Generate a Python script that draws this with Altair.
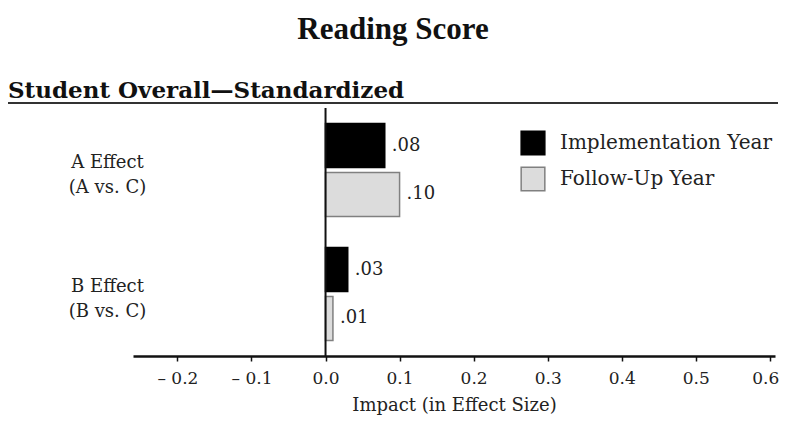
import altair as alt
import pandas as pd

categories = ["A Effect", "B Effect"]
comparisons = ["(A vs. C)", "(B vs. C)"]
series = ["Implementation Year", "Follow-Up Year"]
implementation = [0.08, 0.03]
follow_up = [0.10, 0.01]
x_ticks = [-0.2, -0.1, 0.0, 0.1, 0.2, 0.3, 0.4, 0.5, 0.6]

rows = []
for i, c in enumerate(categories):
    key = c + "|" + comparisons[i]
    rows.append({"cat": key, "series": series[0], "value": implementation[i]})
    rows.append({"cat": key, "series": series[1], "value": follow_up[i]})
df = pd.DataFrame(rows)
cat_order = [c + "|" + comparisons[i] for i, c in enumerate(categories)]

BODY = "DejaVu Serif"

x_enc = alt.X(
    "value:Q",
    scale=alt.Scale(domain=[-0.26, 0.607], nice=False, zero=False),
    axis=alt.Axis(
        values=x_ticks,
        labelExpr="datum.value < 0 ? '\u2013 ' + format(abs(datum.value), '.1f') : format(datum.value, '.1f')",
        title="Impact (in Effect Size)",
        grid=False,
        domainColor="#111",
        domainWidth=2.5,
        tickColor="#111",
        tickWidth=1.5,
        tickSize=5,
        labelFont=BODY,
        labelFontSize=17,
        labelColor="#222",
        labelPadding=9,
        labelFlush=6,
        labelFlushOffset=9,
        titleFont=BODY,
        titleFontSize=18,
        titleFontWeight="normal",
        titleColor="#222",
        titlePadding=10,
    ),
)
y_enc = alt.Y(
    "cat:N",
    sort=cat_order,
    scale=alt.Scale(paddingInner=0.25, paddingOuter=0.125),
    axis=alt.Axis(
        title=None,
        domain=False,
        ticks=False,
        tickSize=0,
        labelExpr="split(datum.label, '|')",
        labelAlign="center",
        labelBaseline="middle",
        labelPadding=26,
        labelOffset=-7,
        labelLineHeight=25,
        labelFont=BODY,
        labelFontSize=18,
        labelColor="#222",
    ),
)
yoff = alt.YOffset("series:N", sort=series, scale=alt.Scale(paddingInner=0.1, paddingOuter=0))

legend = alt.Legend(
    title=None,
    orient="none",
    legendX=387,
    legendY=22,
    symbolType="square",
    symbolSize=560,
    symbolStrokeWidth=1.5,
    labelFont=BODY,
    labelFontSize=20,
    labelColor="#222",
    labelOffset=14,
    labelLimit=0,
    rowPadding=6,
)

bars = alt.Chart(df).mark_bar(strokeWidth=1.5).encode(
    x=x_enc,
    y=y_enc,
    yOffset=yoff,
    fill=alt.Fill(
        "series:N",
        sort=series,
        scale=alt.Scale(domain=series, range=["#000000", "#dcdcdc"]),
        legend=legend,
    ),
    stroke=alt.Stroke(
        "series:N",
        sort=series,
        scale=alt.Scale(domain=series, range=["#000000", "#808080"]),
        legend=legend,
    ),
)

labels = alt.Chart(df).transform_calculate(
    lab="replace(format(datum.value, '.2f'), '0.', '.')"
).mark_text(align="left", baseline="middle", dx=7, font=BODY, fontSize=18, color="#222").encode(
    x="value:Q", y=alt.Y("cat:N", sort=cat_order), yOffset=yoff, text="lab:N"
)

zero_line = alt.Chart(pd.DataFrame({"z": [0.0]})).mark_rule(color="#111", strokeWidth=2).encode(
    x="z:Q"
)

subtitle = alt.Chart(pd.DataFrame({"t": ["Student Overall\u2014Standardized"]})).mark_text(
    align="left", baseline="alphabetic", font=BODY, fontSize=23, fontWeight="bold", color="#111"
).encode(text="t:N", x=alt.value(-125), y=alt.value(-10))

underline = alt.Chart(pd.DataFrame({"t": [1]})).mark_rule(color="#333", strokeWidth=2).encode(
    x=alt.value(-125), x2=alt.value(645), y=alt.value(-5)
)

chart = alt.layer(bars, labels, zero_line, subtitle, underline).properties(
    width=642,
    height=248,
    background="white",
    autosize=alt.AutoSizeParams(type="none"),
    padding={"left": 125, "top": 100, "right": 4, "bottom": 62},
    title=alt.Title(
        "Reading Score",
        font="Liberation Serif",
        fontSize=31,
        fontWeight="bold",
        color="#111",
        anchor="middle",
        frame="bounds",
        offset=34,
    ),
).configure_view(stroke=None, strokeWidth=0)

chart.save("out.html", embed_options={"renderer": "svg", "actions": False})
